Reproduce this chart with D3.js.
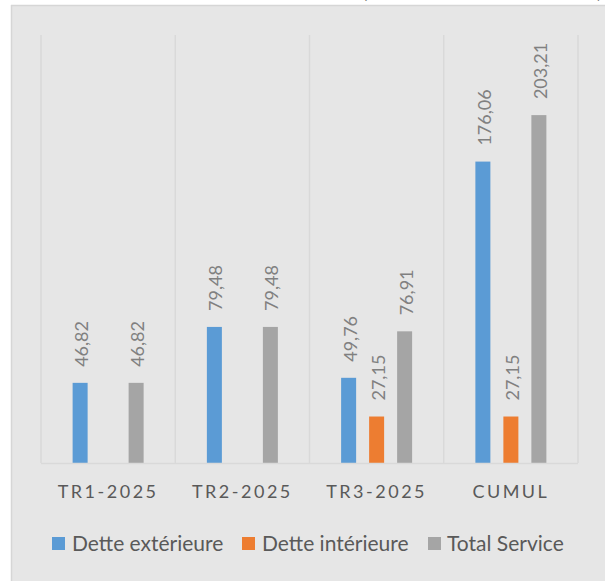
<!DOCTYPE html>
<html><head><meta charset="utf-8">
<script src="https://cdn.jsdelivr.net/npm/d3@7/dist/d3.min.js"></script>
<style>body{margin:0;background:#fff;} svg{display:block;}</style>
</head><body>
<script>
const categories = ["TR1-2025", "TR2-2025", "TR3-2025", "CUMUL"];
const seriesNames = ["Dette extérieure", "Dette intérieure", "Total Service"];
const detteExterieure = [46.82, 79.48, 49.76, 176.06];
const detteInterieure = [null, null, 27.15, 27.15];
const totalService = [46.82, 79.48, 76.91, 203.21];
const colors = ["#5B9BD5", "#ED7D31", "#A5A5A5"];

const W = 605, H = 581;
const svg = d3.select("body").append("svg").attr("width", W).attr("height", H);
const font = "Lato, 'Open Sans', sans-serif";

// cut-off text at very top (as in the reference)
svg.append("text").attr("x", 362).attr("y", -2).attr("font-family", font).attr("font-size", 20).attr("fill", "#333").text("(");
svg.append("text").attr("x", 597).attr("y", -2).attr("font-family", font).attr("font-size", 20).attr("fill", "#333").text(")");

// panel
svg.append("rect").attr("x", 11).attr("y", 5).attr("width", W - 11).attr("height", H - 5)
  .attr("fill", "#E6E6E6");
svg.append("line").attr("x1", 11).attr("x2", W).attr("y1", 5.5).attr("y2", 5.5).attr("stroke", "#D6D6D6").attr("stroke-width", 1.5);
svg.append("line").attr("x1", 11.5).attr("x2", 11.5).attr("y1", 5).attr("y2", H).attr("stroke", "#D6D6D6").attr("stroke-width", 1.5);

const plotL = 41, plotR = 578, plotT = 35, plotB = 463;
const x = d3.scaleBand().domain(categories).range([plotL, plotR]).padding(0);
const y = d3.scaleLinear().domain([0, 250]).range([plotB, plotT]);

// vertical gridlines (category separators)
const seps = categories.map(c => x(c)).concat([plotR]);
svg.append("g").selectAll("line").data(seps).join("line")
  .attr("x1", d => d).attr("x2", d => d).attr("y1", plotT).attr("y2", plotB)
  .attr("stroke", "#D9D9D9").attr("stroke-width", 1.5);

const series = [detteExterieure, detteInterieure, totalService];
const data = [];
categories.forEach((c, i) => series.forEach((s, j) => {
  if (s[i] != null) data.push({c, name: seriesNames[j], v: s[i], color: colors[j]});
}));

const bw = 15;
const cx = d => x(d.c) + x.bandwidth() / 2 + (seriesNames.indexOf(d.name) - 1) * 28;

svg.append("g").selectAll("rect").data(data).join("rect")
  .attr("x", d => cx(d) - bw / 2).attr("width", bw)
  .attr("y", d => y(d.v)).attr("height", d => y(0) - y(d.v))
  .attr("fill", d => d.color);

// baseline axis
svg.append("line").attr("x1", plotL).attr("x2", plotR).attr("y1", plotB + 0.5).attr("y2", plotB + 0.5)
  .attr("stroke", "#D9D9D9").attr("stroke-width", 1.5);

// value labels
const fmt = v => v.toFixed(2).replace(".", ",");
svg.append("g").selectAll("text").data(data).join("text")
  .attr("transform", d => `translate(${cx(d) + 8},${y(d.v) - 16}) rotate(-90)`)
  .attr("font-family", font).attr("font-size", 18).attr("fill", "#808080")
  .text(d => fmt(d.v));

// category labels
svg.append("g").selectAll("text").data(categories).join("text")
  .attr("x", d => x(d) + x.bandwidth() / 2).attr("y", 498)
  .attr("text-anchor", "middle").attr("font-family", font).attr("font-size", 18)
  .attr("letter-spacing", 2.5).attr("fill", "#595959")
  .text(d => d);

// legend
const legendItems = [
  {name: seriesNames[0], sx: 52, tx: 72},
  {name: seriesNames[1], sx: 242, tx: 262},
  {name: seriesNames[2], sx: 428, tx: 447}
];
const lg = svg.append("g");
legendItems.forEach((it, i) => {
  lg.append("rect").attr("x", it.sx).attr("y", 537).attr("width", 13).attr("height", 13).attr("fill", colors[i]);
  lg.append("text").attr("x", it.tx).attr("y", 551).attr("font-family", font).attr("font-size", 21)
    .attr("fill", "#595959").text(it.name);
});
</script>
</body></html>
